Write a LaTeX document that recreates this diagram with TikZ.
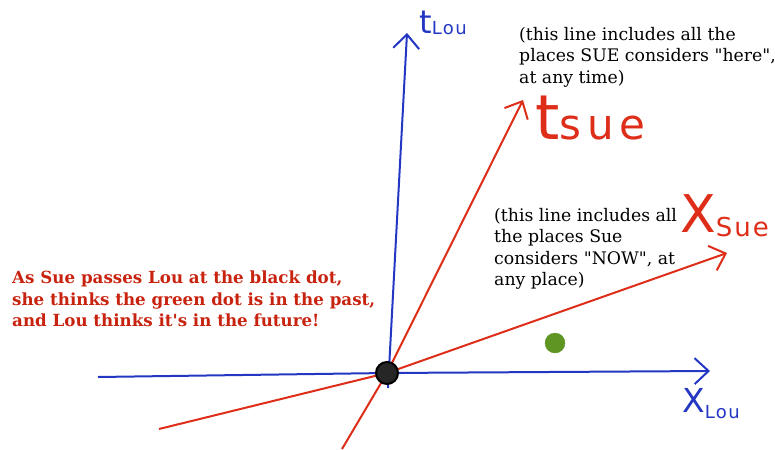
\documentclass[tikz,border=0pt]{standalone}
\usepackage{fontspec}
\setmainfont{DejaVu Serif}[Ligatures=TeXOff]
\newfontfamily\handfont{DejaVu Sans}[LetterSpace=8]
\usepackage{xcolor}
\definecolor{colLou}{RGB}{35,55,195}
\definecolor{colSue}{RGB}{222,45,25}
\definecolor{colNote}{RGB}{200,35,15}
\definecolor{colGreen}{RGB}{95,150,35}
\usetikzlibrary{arrows.meta}

\begin{document}
\begin{tikzpicture}[
		x=1pt, y=-1pt,
		louline/.style={line width=2pt, colLou},
		sueline/.style={line width=2pt, colSue},
		note/.style={anchor=north west, inner sep=0pt, align=left, font=\fontsize{17.3}{21.5}\selectfont},
		hand/.style={inner sep=0pt, font=\handfont},
		>={Straight Barb[length=14pt, width=26pt]}
	]
		\useasboundingbox (0,0) rectangle (775,449);

		% ===== Lou's axes (blue) =====
		\coordinate (o) at (387,373);
		\coordinate (xLouA) at (98,377);
		\coordinate (xLouB) at (710,371);
		\coordinate (tLouA) at (388,388);
		\coordinate (tLouB) at (407,33);
		\draw[louline, ->] (xLouA) -- (o) -- (xLouB);
		\draw[louline, ->] (tLouA) -- (tLouB);

		\node[hand, text=colLou, anchor=south west] (tLou) at (419,35)
			{\fontsize{32}{32}\selectfont t\fontsize{18}{18}\selectfont\raisebox{-1pt}{Lou}};
		\node[hand, text=colLou, anchor=north west] (xLou) at (682,388)
			{\fontsize{33}{33}\selectfont X\fontsize{18}{18}\selectfont\raisebox{-6pt}{Lou}};

		% ===== Sue's axes (red) =====
		\coordinate (tSueA) at (342,449);
		\coordinate (tSueB) at (523,100);
		\coordinate (xSueA) at (159,429);
		\coordinate (xSueB) at (727,253);
		\draw[sueline, ->] (tSueA) -- (o) -- (tSueB);
		\draw[sueline, ->] (xSueA) -- (o) -- (xSueB);

		\node[hand, text=colSue, anchor=south west] (tSue) at (535,140)
			{\fontsize{62}{62}\selectfont t\fontsize{42}{42}\selectfont\addfontfeature{LetterSpace=14}sue};
		\node[hand, text=colSue, anchor=south west] (xSue) at (680,237)
			{\fontsize{52}{52}\selectfont X\fontsize{26}{26}\selectfont\raisebox{-4pt}{Sue}};

		% ===== Events =====
		\node[circle, draw=black, line width=2pt, fill=black!85, minimum size=22pt, inner sep=0pt] (now) at (o) {};
		\node[circle, draw=colGreen, fill=colGreen, minimum size=20pt, inner sep=0pt] (green) at (555,343) {};

		% ===== Notes =====
		\node[note] (hereNote) at (519,27)
			{(this line includes all the\\places SUE considers "here",\\at any time)};
		\node[note] (nowNote) at (494,208)
			{(this line includes all\\the places Sue\\considers "NOW", at\\any place)};
		\node[note, text=colNote, font=\bfseries\fontsize{16.7}{21.5}\selectfont] (claim) at (12,271)
			{As Sue passes Lou at the black dot,\\she thinks the green dot is in the past,\\and Lou thinks it's in the future!};
	\end{tikzpicture}
\end{document}
